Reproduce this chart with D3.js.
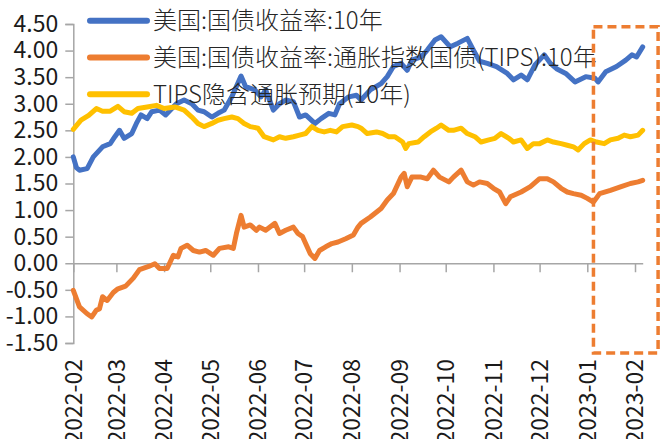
<!DOCTYPE html>
<html>
<head>
<meta charset="utf-8">
<script src="https://cdn.jsdelivr.net/npm/d3@7"></script>
<style>
body{margin:0;background:#fff;}
</style>
</head>
<body>
<div id="canva"></div>
<script>
// series names / colours
var seriesNames = ["美国:国债收益率:10年", "美国:国债收益率:通胀指数国债(TIPS):10年", "TIPS隐含通胀预期(10年)"];
var seriesColors = ["#4472C4", "#ED7D31", "#FFC000"];

// axis ticks
var yTicks = [-1.5, -1, -0.5, 0, 0.5, 1, 1.5, 2, 2.5, 3, 3.5, 4, 4.5];
var monthTicks = ["2022-02", "2022-03", "2022-04", "2022-05", "2022-06", "2022-07", "2022-08",
                  "2022-09", "2022-10", "2022-11", "2022-12", "2023-01", "2023-02"];
var dateRange = ["2022-02-01", "2023-02-06"];

// dashed highlight box (dates / values)
var boxDates = ["2023-01-05", "2023-02-16"];
var boxValues = [-1.69, 4.45];

// 美国10年国债收益率 (%)
var us10y = [
  ["2022-02-01",2.00],["2022-02-03",1.80],["2022-02-05",1.75],["2022-02-10",1.78],["2022-02-14",2.00],
  ["2022-02-20",2.19],["2022-02-25",2.25],["2022-02-28",2.38],["2022-03-03",2.50],["2022-03-06",2.35],
  ["2022-03-11",2.44],["2022-03-14",2.63],["2022-03-17",2.79],["2022-03-21",2.72],["2022-03-24",2.85],
  ["2022-03-29",2.88],["2022-04-02",2.79],["2022-04-09",3.00],["2022-04-14",3.07],["2022-04-19",3.00],
  ["2022-04-23",2.88],["2022-04-27",2.85],["2022-05-02",2.75],["2022-05-06",2.82],["2022-05-10",2.88],
  ["2022-05-15",3.13],["2022-05-21",3.52],["2022-05-24",3.32],["2022-05-30",3.26],["2022-06-03",3.13],
  ["2022-06-06",3.26],["2022-06-11",2.88],["2022-06-15",3.00],["2022-06-19",3.07],["2022-06-24",3.04],
  ["2022-06-28",2.75],["2022-07-02",2.79],["2022-07-08",2.63],["2022-07-12",2.72],["2022-07-17",2.82],
  ["2022-07-21",2.79],["2022-07-24",3.00],["2022-07-30",3.13],["2022-08-04",3.16],["2022-08-07",3.07],
  ["2022-08-13",3.26],["2022-08-20",3.38],["2022-08-24",3.51],["2022-08-28",3.70],["2022-09-02",3.76],
  ["2022-09-06",3.63],["2022-09-09",3.82],["2022-09-15",3.88],["2022-09-19",4.01],["2022-09-24",4.20],
  ["2022-09-28",4.26],["2022-10-04",4.07],["2022-10-09",4.14],["2022-10-15",4.23],["2022-10-19",4.01],
  ["2022-10-23",3.80],["2022-10-28",3.76],["2022-11-03",3.70],["2022-11-10",3.57],["2022-11-14",3.45],
  ["2022-11-19",3.54],["2022-11-23",3.45],["2022-11-28",3.73],["2022-12-04",3.92],["2022-12-08",3.76],
  ["2022-12-12",3.66],["2022-12-18",3.57],["2022-12-24",3.41],["2022-12-31",3.51],["2023-01-06",3.48],
  ["2023-01-08",3.41],["2023-01-13",3.60],["2023-01-20",3.70],["2023-01-26",3.82],["2023-01-30",3.92],
  ["2023-02-02",3.88],["2023-02-06",4.07]
];

// TIPS 10年收益率 (%)
var tips10y = [
  ["2022-02-01",-0.51],["2022-02-05",-0.82],["2022-02-10",-0.95],["2022-02-13",-1.01],["2022-02-16",-0.88],
  ["2022-02-18",-0.86],["2022-02-20",-0.63],["2022-02-23",-0.70],["2022-02-27",-0.55],["2022-03-02",-0.48],
  ["2022-03-07",-0.43],["2022-03-12",-0.28],["2022-03-16",-0.12],["2022-03-22",-0.06],["2022-03-26",-0.01],
  ["2022-03-29",-0.10],["2022-04-03",-0.10],["2022-04-07",0.15],["2022-04-10",0.12],["2022-04-12",0.28],
  ["2022-04-16",0.34],["2022-04-20",0.24],["2022-04-24",0.21],["2022-04-28",0.24],["2022-05-03",0.15],
  ["2022-05-07",0.28],["2022-05-13",0.31],["2022-05-16",0.28],["2022-05-18",0.56],["2022-05-21",0.90],
  ["2022-05-23",0.68],["2022-05-27",0.72],["2022-05-31",0.62],["2022-06-02",0.68],["2022-06-06",0.62],
  ["2022-06-12",0.75],["2022-06-15",0.56],["2022-06-19",0.62],["2022-06-24",0.68],["2022-06-27",0.56],
  ["2022-06-30",0.50],["2022-07-05",0.18],["2022-07-08",0.09],["2022-07-11",0.24],["2022-07-15",0.31],
  ["2022-07-19",0.37],["2022-07-23",0.40],["2022-07-28",0.46],["2022-08-02",0.53],["2022-08-05",0.68],
  ["2022-08-07",0.75],["2022-08-13",0.87],["2022-08-20",1.03],["2022-08-24",1.19],["2022-08-28",1.31],
  ["2022-09-02",1.62],["2022-09-04",1.69],["2022-09-06",1.44],["2022-09-09",1.62],["2022-09-15",1.62],
  ["2022-09-19",1.59],["2022-09-23",1.75],["2022-09-27",1.62],["2022-10-03",1.53],["2022-10-06",1.62],
  ["2022-10-11",1.75],["2022-10-15",1.53],["2022-10-19",1.47],["2022-10-23",1.53],["2022-10-28",1.50],
  ["2022-11-01",1.41],["2022-11-05",1.34],["2022-11-09",1.12],["2022-11-12",1.25],["2022-11-19",1.34],
  ["2022-11-25",1.44],["2022-12-01",1.59],["2022-12-06",1.59],["2022-12-10",1.53],["2022-12-15",1.41],
  ["2022-12-19",1.34],["2022-12-23",1.31],["2022-12-28",1.28],["2023-01-01",1.22],["2023-01-05",1.15],
  ["2023-01-09",1.31],["2023-01-16",1.37],["2023-01-23",1.44],["2023-01-29",1.50],["2023-02-03",1.53],
  ["2023-02-06",1.56]
];

// TIPS隐含通胀预期 10年 (%)
var breakeven10y = [
  ["2022-02-01",2.52],["2022-02-06",2.69],["2022-02-11",2.78],["2022-02-16",2.91],["2022-02-20",2.86],
  ["2022-02-25",2.86],["2022-03-02",2.95],["2022-03-06",2.85],["2022-03-11",2.82],["2022-03-15",2.91],
  ["2022-03-21",2.94],["2022-03-27",2.97],["2022-04-01",2.91],["2022-04-08",2.94],["2022-04-14",2.88],
  ["2022-04-19",2.75],["2022-04-23",2.63],["2022-04-27",2.57],["2022-05-02",2.63],["2022-05-06",2.69],
  ["2022-05-10",2.72],["2022-05-15",2.75],["2022-05-19",2.72],["2022-05-23",2.63],["2022-05-27",2.57],
  ["2022-06-01",2.54],["2022-06-05",2.38],["2022-06-11",2.32],["2022-06-15",2.38],["2022-06-19",2.35],
  ["2022-06-24",2.38],["2022-06-28",2.41],["2022-07-02",2.44],["2022-07-06",2.57],["2022-07-10",2.50],
  ["2022-07-14",2.47],["2022-07-18",2.50],["2022-07-22",2.47],["2022-07-26",2.57],["2022-08-01",2.60],
  ["2022-08-05",2.57],["2022-08-07",2.54],["2022-08-11",2.44],["2022-08-17",2.47],["2022-08-21",2.44],
  ["2022-08-25",2.38],["2022-08-29",2.38],["2022-09-03",2.28],["2022-09-05",2.16],["2022-09-07",2.25],
  ["2022-09-13",2.28],["2022-09-17",2.38],["2022-09-21",2.47],["2022-09-25",2.54],["2022-09-28",2.60],
  ["2022-10-03",2.50],["2022-10-06",2.50],["2022-10-11",2.54],["2022-10-15",2.44],["2022-10-20",2.38],
  ["2022-10-24",2.28],["2022-10-29",2.32],["2022-11-02",2.35],["2022-11-06",2.44],["2022-11-11",2.35],
  ["2022-11-14",2.28],["2022-11-19",2.32],["2022-11-23",2.16],["2022-11-27",2.25],["2022-12-01",2.25],
  ["2022-12-06",2.32],["2022-12-10",2.28],["2022-12-15",2.25],["2022-12-19",2.22],["2022-12-23",2.19],
  ["2022-12-26",2.13],["2022-12-30",2.25],["2023-01-03",2.32],["2023-01-07",2.28],["2023-01-12",2.25],
  ["2023-01-16",2.32],["2023-01-21",2.35],["2023-01-25",2.41],["2023-01-29",2.38],["2023-02-03",2.41],
  ["2023-02-06",2.50]
];

var width = 660, height = 439;
var margin = {top: 24, left: 73.3, right: 17.3, bottom: 96};
var font = "'Noto Sans CJK SC', 'Noto Sans', sans-serif";
var parse = d3.timeParse("%Y-%m-%d");
var parseMonth = d3.timeParse("%Y-%m");

var svg = d3.select("#canva")
            .append("svg")
            .attr("width", width)
            .attr("height", height)
            .style("display", "block");

var x = d3.scaleTime()
          .domain(dateRange.map(parse))
          .range([margin.left, width - margin.right]);

var y = d3.scaleLinear()
          .domain([-1.5, 4.5])
          .range([height - margin.bottom, margin.top]);

var axisColor = "#A6A6A6";

// y axis
var yAxis = svg.append("g")
               .attr("transform", "translate(" + margin.left + ",0)")
               .call(d3.axisLeft(y).tickValues(yTicks).tickSize(8).tickPadding(7)
                       .tickFormat(function(d){ return d.toFixed(2); }));
yAxis.select(".domain").attr("stroke", axisColor).attr("stroke-width", 1.5);
yAxis.selectAll(".tick line").attr("stroke", axisColor).attr("stroke-width", 1.5);
yAxis.selectAll("text")
     .attr("fill", "#1a1a1a")
     .style("font-family", font)
     .style("font-size", "23px");

// x axis sits on y = 0
var xAxis = svg.append("g")
               .attr("transform", "translate(0," + y(0) + ")")
               .call(d3.axisBottom(x).tickValues(monthTicks.map(parseMonth)).tickSize(9)
                       .tickSizeOuter(0).tickFormat(""));
xAxis.select(".domain").attr("stroke", axisColor).attr("stroke-width", 1.5);
xAxis.selectAll(".tick line").attr("stroke", axisColor).attr("stroke-width", 1.5);

// month labels at the bottom, rotated
svg.selectAll(".month")
   .data(monthTicks)
   .enter()
   .append("text")
   .attr("class", "month")
   .attr("transform", function(d){ return "translate(" + x(parseMonth(d)) + "," + (height - margin.bottom + 16) + ") rotate(-90)"; })
   .attr("text-anchor", "end")
   .attr("dy", "0.36em")
   .attr("fill", "#1a1a1a")
   .style("font-family", font)
   .style("font-size", "23px")
   .text(function(d){ return d; });

var line = d3.line()
             .x(function(d){ return x(parse(d[0])); })
             .y(function(d){ return y(d[1]); });

var allSeries = [us10y, tips10y, breakeven10y];

svg.selectAll(".series")
   .data(allSeries)
   .enter()
   .append("path")
   .attr("class", "series")
   .attr("fill", "none")
   .attr("stroke", function(d, i){ return seriesColors[i]; })
   .attr("stroke-width", 5)
   .attr("stroke-linejoin", "round")
   .attr("stroke-linecap", "round")
   .attr("d", line);

// legend
var legend = svg.selectAll(".legend")
                .data(seriesNames)
                .enter()
                .append("g")
                .attr("class", "legend")
                .attr("transform", function(d, i){ return "translate(90," + (20.7 + i * 36.8) + ")"; });

legend.append("line")
      .attr("x1", 0).attr("x2", 57)
      .attr("stroke", function(d, i){ return seriesColors[i]; })
      .attr("stroke-width", 6)
      .attr("stroke-linecap", "round");

legend.append("text")
      .attr("x", 63)
      .attr("dy", "0.36em")
      .attr("fill", "#262626")
      .style("font-family", font)
      .style("font-weight", 300)
      .style("font-size", "24px")
      .text(function(d){ return d; });

// dashed box around the latest period
svg.append("rect")
   .attr("x", x(parse(boxDates[0])))
   .attr("y", y(boxValues[1]))
   .attr("width", x(parse(boxDates[1])) - x(parse(boxDates[0])))
   .attr("height", y(boxValues[0]) - y(boxValues[1]))
   .attr("fill", "none")
   .attr("stroke", "#ED7D31")
   .attr("stroke-width", 3.5)
   .attr("stroke-dasharray", "9,5");
</script>
</body>
</html>
